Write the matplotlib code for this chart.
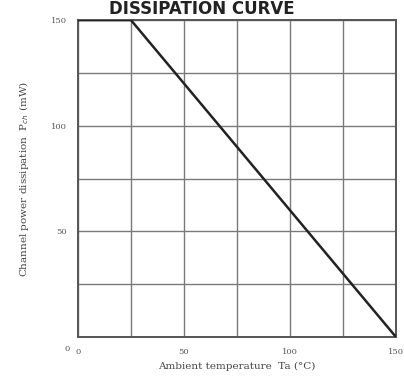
import matplotlib.pyplot as plt
import numpy as np

# derating curve: flat up to 25 C, then linear down to zero at 150 C
ta = [0, 25, 150]
pch = [150, 150, 0]

xticks = [0, 50, 100, 150]
yticks = [0, 50, 100, 150]

fig = plt.figure(figsize=(4.04, 3.79), dpi=100)
ax = fig.add_axes([0.193, 0.111, 0.787, 0.836])

ax.plot(ta, pch, color='#222222', lw=1.8, solid_capstyle='butt', zorder=3)

ax.set_xlim(0, 150)
ax.set_ylim(0, 150)
ax.set_xticks(np.arange(0, 151, 25), minor=True)
ax.set_yticks(np.arange(0, 151, 25), minor=True)
ax.set_xticks(xticks)
ax.set_yticks(yticks)
ax.set_xticklabels([str(v) for v in xticks], fontsize=6, color='#555555', family='DejaVu Serif')
ax.set_yticklabels(['', '50', '100', '150'], fontsize=6, color='#555555', family='DejaVu Serif')
ax.grid(True, which='both', color='#7a7a7a', lw=1.0)
ax.tick_params(which='both', length=0, pad=8)

for s in ax.spines.values():
    s.set_color('#555555')
    s.set_linewidth(1.4)

fig.text(0.16, 0.075, '0', fontsize=6, color='#555555', family='DejaVu Serif')

ax.set_xlabel('Ambient temperature  Ta (\u00b0C)', fontsize=7.5, color='#444444',
              family='DejaVu Serif', labelpad=4)
ax.set_ylabel('Channel power dissipation  P$_{ch}$ (mW)', fontsize=7.5, color='#444444',
              family='DejaVu Serif', labelpad=14)

fig.text(0.5, 0.999, 'DISSIPATION CURVE', ha='center', va='top', fontsize=12,
         fontweight='bold', color='#222222')

fig.savefig('out.png', dpi=100)
